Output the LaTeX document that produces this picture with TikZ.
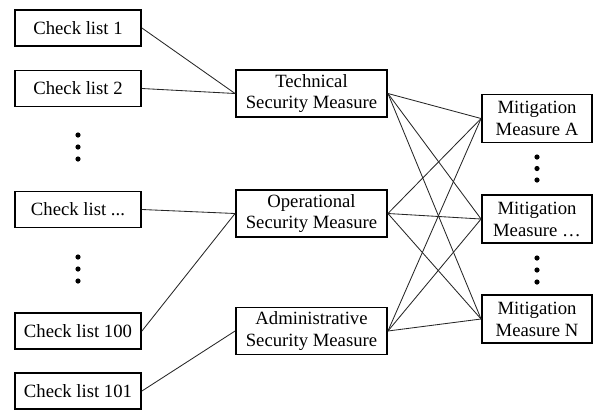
\documentclass[tikz,border=0pt]{standalone}
\usepackage{fontspec}
\setmainfont{Liberation Serif}
\usepackage{tikz}
\tikzset{
  box/.style={draw, line width=1.3pt, align=center, inner sep=1pt, font=\fontsize{13.3}{15.6}\selectfont},
  checkbox/.style={box, minimum width=3.15cm, minimum height=0.9cm},
  measurebox/.style={box, minimum width=3.775cm, minimum height=1.175cm},
  mitbox/.style={box, minimum width=2.75cm, minimum height=1.2cm},
  link/.style={line width=0.6pt, black!85}
}

\begin{document}
\begin{tikzpicture}[x=0.025cm, y=-0.025cm]
			\useasboundingbox (0,0) rectangle (594,410);
			\node[checkbox] (cl1) at (78,28) {Check list 1};
			\node[checkbox] (cl2) at (78,88.5) {Check list 2};
			\node[checkbox] (clx) at (78,209.5) {Check list ...};
			\node[checkbox] (cl100) at (78,331) {Check list 100};
			\node[checkbox] (cl101) at (78,391) {Check list 101};
			\node[measurebox] (tech) at (311.5,93.5) {Technical\\Security Measure};
			\node[measurebox] (oper) at (311.5,213.5) {Operational\\Security Measure};
			\node[measurebox] (admin) at (311.5,331) {Administrative\\Security Measure};
			\node[mitbox] (mitA) at (537,118.5) {Mitigation\\Measure A};
			\node[mitbox] (mitX) at (537,219) {Mitigation\\Measure \dots};
			\node[mitbox] (mitN) at (537,319) {Mitigation\\Measure N};
			\fill (78,135) circle (2.6);
			\fill (78,147) circle (2.6);
			\fill (78,159) circle (2.6);
			\fill (78,257) circle (2.6);
			\fill (78,269) circle (2.6);
			\fill (78,281) circle (2.6);
			\fill (537,157) circle (2.6);
			\fill (537,168.5) circle (2.6);
			\fill (537,180) circle (2.6);
			\fill (537,258) circle (2.6);
			\fill (537,270) circle (2.6);
			\fill (537,282) circle (2.6);
			\draw[link] (cl1.east)--(tech.west);
			\draw[link] (cl2.east)--(tech.west);
			\draw[link] (clx.east)--(oper.west);
			\draw[link] (cl100.east)--(oper.west);
			\draw[link] (cl101.east)--(admin.west);
			\draw[link] (tech.east)--(mitA.west);
			\draw[link] (tech.east)--(mitX.west);
			\draw[link] (tech.east)--(mitN.west);
			\draw[link] (oper.east)--(mitA.west);
			\draw[link] (oper.east)--(mitX.west);
			\draw[link] (oper.east)--(mitN.west);
			\draw[link] (admin.east)--(mitA.west);
			\draw[link] (admin.east)--(mitX.west);
			\draw[link] (admin.east)--(mitN.west);
\end{tikzpicture}
\end{document}
